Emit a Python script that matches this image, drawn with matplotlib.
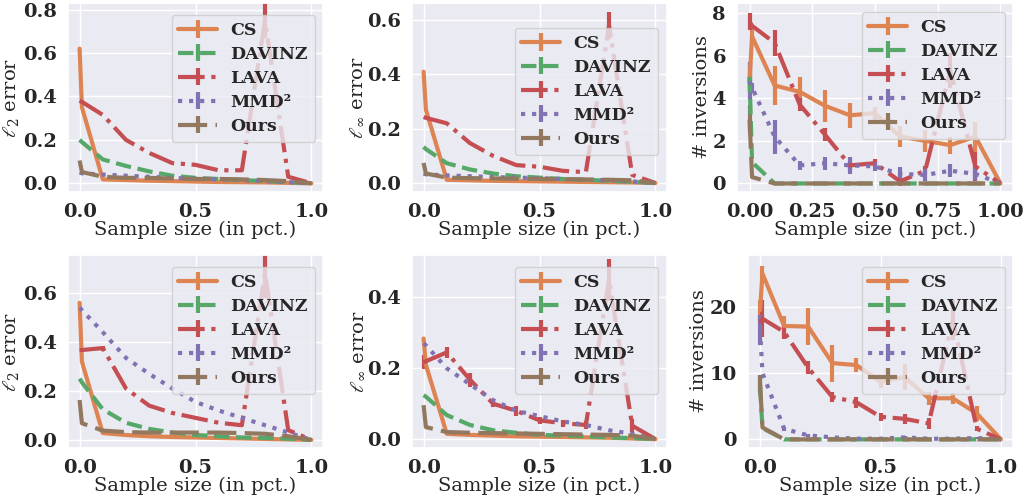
import numpy as np
import matplotlib
matplotlib.use("Agg")
import matplotlib.pyplot as plt
import seaborn as sns

sns.set_theme(style="darkgrid")
plt.rcParams['font.family'] = ['DejaVu Serif']
plt.rcParams['mathtext.fontset'] = 'dejavuserif'

# sample sizes (fraction of the data)
x = [0.0, 0.01, 0.1, 0.2, 0.3, 0.4, 0.5, 0.6, 0.7, 0.8, 0.9, 1.0]

methods = ['CS', 'DAVINZ', 'LAVA', 'MMD²', 'Ours']
colors = ['#DD8452', '#55A868', '#C44E52', '#8172B3', '#937860']
styles = ['-', '--', '-.', ':', (0, (7, 2))]

# ---- top row ----
l2_top = {
    'CS':     [0.62, 0.35, 0.018, 0.015, 0.012, 0.010, 0.008, 0.006, 0.005, 0.004, 0.002, 0.0],
    'DAVINZ': [0.20, 0.19, 0.11, 0.08, 0.055, 0.035, 0.025, 0.02, 0.015, 0.01, 0.005, 0.0],
    'LAVA':   [0.38, 0.375, 0.315, 0.20, 0.14, 0.093, 0.085, 0.06, 0.06, 0.75, 0.03, 0.0],
    'MMD²':   [0.05, 0.046, 0.04, 0.035, 0.03, 0.025, 0.02, 0.018, 0.015, 0.01, 0.005, 0.0],
    'Ours':   [0.105, 0.052, 0.03, 0.025, 0.025, 0.022, 0.02, 0.02, 0.018, 0.015, 0.01, 0.0],
}
l2_top_err = {'LAVA': [0, 0, 0, 0, 0, 0, 0, 0, 0, 0.08, 0, 0]}

linf_top = {
    'CS':     [0.41, 0.27, 0.012, 0.010, 0.008, 0.007, 0.006, 0.005, 0.004, 0.003, 0.002, 0.0],
    'DAVINZ': [0.133, 0.125, 0.073, 0.05, 0.035, 0.025, 0.02, 0.015, 0.012, 0.008, 0.005, 0.0],
    'LAVA':   [0.243, 0.24, 0.22, 0.147, 0.10, 0.066, 0.06, 0.045, 0.04, 0.58, 0.03, 0.0],
    'MMD²':   [0.035, 0.032, 0.028, 0.025, 0.022, 0.02, 0.018, 0.015, 0.012, 0.01, 0.006, 0.0],
    'Ours':   [0.074, 0.035, 0.02, 0.018, 0.017, 0.016, 0.015, 0.014, 0.013, 0.012, 0.01, 0.0],
}
linf_top_err = {'LAVA': [0, 0, 0, 0, 0, 0, 0, 0, 0, 0.05, 0, 0]}

inv_top = {
    'CS':     [4.8, 6.9, 4.6, 4.3, 3.65, 3.2, 3.3, 2.2, 2.0, 1.8, 2.2, 0.0],
    'DAVINZ': [5.0, 1.0, 0, 0, 0, 0, 0, 0, 0, 0, 0, 0],
    'LAVA':   [7.6, 7.4, 6.6, 3.7, 2.3, 0.85, 0.95, 0.1, 0.6, 5.3, 0.8, 0.0],
    'MMD²':   [4.8, 4.5, 2.2, 0.85, 0.95, 0.85, 0.8, 0.45, 0.4, 0.6, 0.45, 0.0],
    'Ours':   [3.0, 0.3, 0, 0, 0, 0, 0, 0, 0, 0, 0, 0],
}
inv_top_err = {
    'CS':     [0.4, 0.4, 0.9, 0.7, 0.75, 0.6, 0.3, 0.5, 0.5, 0.4, 0.7, 0],
    'DAVINZ': [0.7, 0, 0, 0, 0, 0, 0, 0, 0, 0, 0, 0],
    'LAVA':   [0.4, 0, 0.6, 0.3, 0.3, 0.2, 0.2, 0.2, 0.2, 0.8, 0.7, 0],
    'MMD²':   [0.9, 0.2, 0.8, 0.2, 0.3, 0.4, 0.2, 0.3, 0.3, 0.3, 0.3, 0],
    'Ours':   [0.7, 0, 0, 0, 0, 0, 0, 0, 0, 0, 0, 0],
}

# ---- bottom row ----
l2_bot = {
    'CS':     [0.56, 0.32, 0.028, 0.02, 0.015, 0.012, 0.01, 0.008, 0.006, 0.004, 0.002, 0.0],
    'DAVINZ': [0.25, 0.235, 0.125, 0.07, 0.045, 0.03, 0.02, 0.015, 0.01, 0.008, 0.005, 0.0],
    'LAVA':   [0.367, 0.367, 0.375, 0.21, 0.14, 0.11, 0.09, 0.07, 0.06, 0.68, 0.04, 0.0],
    'MMD²':   [0.54, 0.53, 0.44, 0.335, 0.27, 0.21, 0.155, 0.12, 0.09, 0.06, 0.03, 0.0],
    'Ours':   [0.163, 0.068, 0.038, 0.032, 0.03, 0.03, 0.03, 0.03, 0.028, 0.025, 0.015, 0.0],
}
l2_bot_err = {'LAVA': [0, 0, 0.01, 0, 0, 0, 0, 0, 0, 0.1, 0, 0]}

linf_bot = {
    'CS':     [0.284, 0.21, 0.015, 0.012, 0.01, 0.008, 0.007, 0.006, 0.005, 0.004, 0.002, 0.0],
    'DAVINZ': [0.124, 0.12, 0.068, 0.04, 0.025, 0.018, 0.012, 0.01, 0.008, 0.005, 0.003, 0.0],
    'LAVA':   [0.217, 0.22, 0.245, 0.168, 0.10, 0.08, 0.053, 0.045, 0.04, 0.45, 0.038, 0.0],
    'MMD²':   [0.27, 0.265, 0.20, 0.155, 0.11, 0.08, 0.065, 0.05, 0.04, 0.025, 0.015, 0.0],
    'Ours':   [0.096, 0.034, 0.02, 0.018, 0.017, 0.016, 0.015, 0.014, 0.013, 0.012, 0.01, 0.0],
}
linf_bot_err = {
    'LAVA': [0.02, 0, 0.015, 0.02, 0.01, 0.015, 0.01, 0.01, 0.01, 0.06, 0.018, 0],
}

inv_bot = {
    'CS':     [19.5, 25.0, 17.1, 17.0, 11.5, 11.2, 8.7, 9.4, 6.2, 6.2, 3.9, 0.0],
    'DAVINZ': [8.0, 1.7, 0, 0, 0, 0, 0, 0, 0, 0, 0, 0],
    'LAVA':   [17.5, 18.2, 16.2, 10.8, 6.4, 5.6, 3.4, 3.1, 2.4, 18.0, 1.6, 0.0],
    'MMD²':   [16.5, 10.0, 1.6, 0.6, 0.3, 0.1, 0.1, 0.3, 0.1, 0.1, 0.2, 0.0],
    'Ours':   [8.5, 1.8, 0, 0, 0, 0, 0, 0, 0, 0, 0, 0],
}
inv_bot_err = {
    'CS':     [1.5, 1.2, 1.5, 2.8, 2.8, 1.0, 1.0, 2.0, 1.0, 0.8, 1.2, 0],
    'DAVINZ': [1.2, 0, 0, 0, 0, 0, 0, 0, 0, 0, 0, 0],
    'LAVA':   [0, 2.8, 1.0, 1.0, 0.8, 0.8, 0.6, 0.8, 0.8, 3.0, 0.4, 0],
    'MMD²':   [2.3, 0, 0.3, 0.2, 0.1, 0, 0, 0.2, 0, 0, 0.1, 0],
    'Ours':   [1.2, 0, 0, 0, 0, 0, 0, 0, 0, 0, 0, 0],
}

W, H = 1024, 497
fig = plt.figure(figsize=(W / 100, H / 100), dpi=100)

# axes boxes in pixels: left, right, top, bottom
panels = [
    (68, 323, 3, 192, l2_top, l2_top_err, r'$\ell_2$ error', (-0.04, 0.83),
     [0.0, 0.5, 1.0], [0.0, 0.2, 0.4, 0.6, 0.8], (315, 15)),
    (412, 667, 3, 192, linf_top, linf_top_err, r'$\ell_\infty$ error', (-0.033, 0.663),
     [0.0, 0.5, 1.0], [0.0, 0.2, 0.4, 0.6], (658, 28)),
    (737, 1013, 3, 192, inv_top, inv_top_err, '# inversions', (-0.4, 8.47),
     [0.0, 0.25, 0.5, 0.75, 1.0], [0, 2, 4, 6, 8], (1005, 12)),
    (68, 323, 255, 448, l2_bot, l2_bot_err, r'$\ell_2$ error', (-0.033, 0.755),
     [0.0, 0.5, 1.0], [0.0, 0.2, 0.4, 0.6], (315, 267)),
    (412, 667, 255, 448, linf_bot, linf_bot_err, r'$\ell_\infty$ error', (-0.025, 0.52),
     [0.0, 0.5, 1.0], [0.0, 0.2, 0.4], (658, 267)),
    (748, 1013, 255, 448, inv_bot, inv_bot_err, '# inversions', (-1.3, 27.8),
     [0.0, 0.5, 1.0], [0, 10, 20], (1005, 267)),
]

zeros = [0] * len(x)
for left, right, top, bottom, data, errs, ylabel, ylim, xticks, yticks, leg in panels:
    ax = fig.add_axes([left / W, 1 - bottom / H, (right - left) / W, (bottom - top) / H])
    for m, c, ls in zip(methods, colors, styles):
        ax.errorbar(x, data[m], yerr=errs.get(m, zeros), color=c, ls=ls, lw=3,
                    elinewidth=3, capsize=0, label=m)
    ax.set_ylim(*ylim)
    ax.set_xticks(xticks)
    ax.set_yticks(yticks)
    if len(xticks) == 5:
        ax.set_xticklabels([f'{t:.2f}' for t in xticks])
    else:
        ax.set_xticklabels([f'{t:.1f}' for t in xticks])
    ax.tick_params(pad=2)
    ax.set_xlabel('Sample size (in pct.)', fontsize=14, labelpad=0)
    ax.set_ylabel(ylabel, fontsize=14, labelpad=1)
    for lab in ax.get_xticklabels() + ax.get_yticklabels():
        lab.set_fontweight('bold')
        lab.set_fontsize(14)
    ax.legend(loc='upper right', bbox_to_anchor=(leg[0] / W, 1 - leg[1] / H),
              bbox_transform=fig.transFigure, borderaxespad=0,
              prop={'weight': 'bold', 'size': 12.5}, handlelength=2.2,
              labelspacing=0.4, borderpad=0.4)

fig.savefig('out.png', dpi=100)
